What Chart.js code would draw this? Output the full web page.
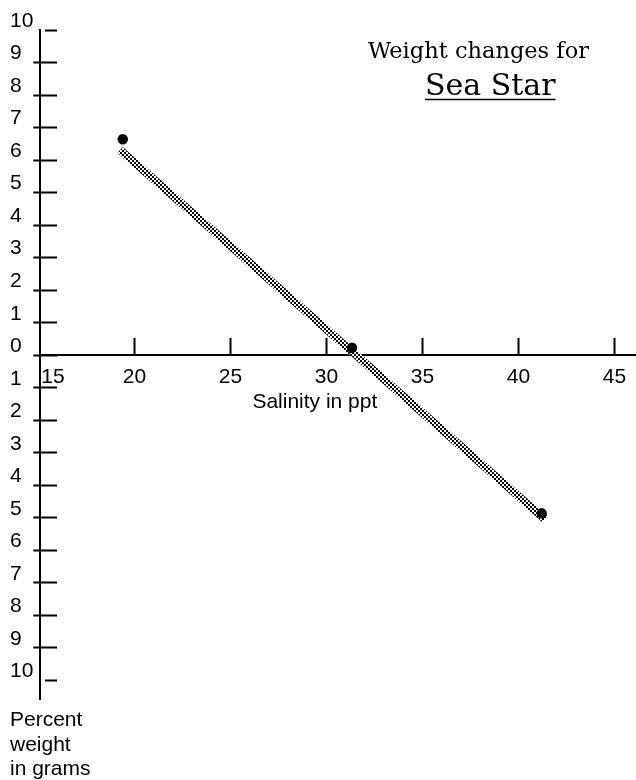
<!DOCTYPE html>
<html>
<head>
<meta charset="utf-8">
<script src="https://cdn.jsdelivr.net/npm/chart.js@4/dist/chart.umd.min.js"></script>
<style>
html,body{margin:0;padding:0;background:#fff}
#wrap{width:636px;height:780px;position:relative}
</style>
</head>
<body>
<div id="wrap"><canvas id="c"></canvas></div>
<script>
// ---- data ----
const salinity = [19.39, 31.33, 41.21];
const weightChange = [6.64, 0.23, -4.86];
const trendSalinity = [19.25, 41.38];
const trendWeight = [6.31, -5.04];
const xTickValues = [15, 20, 25, 30, 35, 40, 45];
const xTickLabels = ['15', '20', '25', '30', '35', '40', '45'];
const yTickValues = [-10, -9, -8, -7, -6, -5, -4, -3, -2, -1, 0, 1, 2, 3, 4, 5, 6, 7, 8, 9, 10];
const yTickLabels = ['10', '9', '8', '7', '6', '5', '4', '3', '2', '1', '0', '1', '2', '3', '4', '5', '6', '7', '8', '9', '10'];
const titleLine1 = 'Weight changes for';
const titleLine2 = 'Sea Star';
const xAxisTitle = 'Salinity in ppt';
const yAxisTitleLines = ['Percent', 'weight', 'in grams'];

// ---- view ----
const X_MIN = 15.1, X_MAX = 46.12, Y_MIN = -10.6, Y_MAX = 10;
const SANS = 'Liberation Sans, Arial, Helvetica, sans-serif';
const SERIF = 'DejaVu Serif, serif';
const clear = 'rgba(0,0,0,0)';

const pc = document.createElement('canvas');
pc.width = 4; pc.height = 4;
const pctx = pc.getContext('2d');
pctx.fillStyle = '#fff'; pctx.fillRect(0, 0, 4, 4);
pctx.fillStyle = '#000'; pctx.fillRect(0, 0, 2, 2); pctx.fillRect(2, 2, 2, 2);
const checker = pctx.createPattern(pc, 'repeat');

const setXTicks = s => { s.ticks = xTickValues.map(v => ({ value: v })); };
const setYTicks = s => { s.ticks = yTickValues.map(v => ({ value: v })); };

const headingPlugin = {
  id: 'heading',
  afterDraw(chart) {
    const ctx = chart.ctx;
    ctx.save();
    ctx.fillStyle = '#000';
    ctx.textBaseline = 'alphabetic';
    ctx.textAlign = 'left';
    ctx.font = '22.5px ' + SERIF;
    ctx.fillText(titleLine1, 368, 58);
    ctx.font = '30px ' + SERIF;
    const w = ctx.measureText(titleLine2).width;
    const x2 = 425;
    ctx.fillText(titleLine2, x2, 95);
    ctx.strokeStyle = '#000';
    ctx.lineWidth = 1.5;
    ctx.beginPath();
    ctx.moveTo(x2, 99.5);
    ctx.lineTo(x2 + w, 99.5);
    ctx.stroke();
    ctx.restore();
  }
};

new Chart(document.getElementById('c'), {
  type: 'scatter',
  data: {
    datasets: [
      {
        label: 'Weight change',
        data: salinity.map((s, i) => ({ x: s, y: weightChange[i] })),
        xAxisID: 'x', yAxisID: 'y',
        pointRadius: 5.2,
        pointStyle: 'circle',
        backgroundColor: '#000',
        borderColor: '#000',
        borderWidth: 0,
        showLine: false
      },
      {
        label: 'Trend',
        data: trendSalinity.map((s, i) => ({ x: s, y: trendWeight[i] })),
        xAxisID: 'x', yAxisID: 'y',
        showLine: true,
        borderColor: checker,
        borderWidth: 8,
        borderCapStyle: 'butt',
        pointRadius: 0,
        fill: false
      }
    ]
  },
  options: {
    responsive: true,
    maintainAspectRatio: false,
    animation: false,
    devicePixelRatio: 1,
    events: [],
    layout: { autoPadding: false, padding: { left: 10, top: 30, right: 0, bottom: 0 } },
    plugins: {
      legend: { display: false },
      tooltip: { enabled: false },
      title: {
        display: true,
        position: 'bottom',
        align: 'start',
        text: yAxisTitleLines,
        color: '#000',
        font: { family: SANS, size: 21, weight: 'normal', lineHeight: 1.1667 },
        padding: { top: 8, bottom: -1.5 }
      }
    },
    scales: {
      x: {
        type: 'linear', axis: 'x',
        position: { y: 0 },
        min: X_MIN, max: X_MAX,
        afterBuildTicks: setXTicks,
        border: { display: true, color: '#000', width: 2 },
        grid: { display: true, drawOnChartArea: false, drawTicks: false },
        ticks: {
          autoSkip: false, maxRotation: 0, minRotation: 0,
          padding: 9,
          color: '#000',
          font: { family: SANS, size: 21 },
          callback: (v, i) => (i === 0 ? '     ' : '') + xTickLabels[i]
        },
        title: {
          display: true,
          text: xAxisTitle + '        ',
          color: '#000',
          font: { family: SANS, size: 21 },
          padding: { top: -9, bottom: 0 }
        }
      },
      x2: {
        type: 'linear', axis: 'x',
        position: { y: 0 },
        min: X_MIN, max: X_MAX,
        afterBuildTicks: setXTicks,
        border: { display: false },
        grid: {
          display: true, drawOnChartArea: false, drawTicks: true,
          tickLength: -17, tickWidth: 2,
          tickColor: c => (c.index === 0 ? clear : '#000')
        },
        ticks: { display: false }
      },
      y: {
        type: 'linear', axis: 'y',
        position: 'left',
        min: Y_MIN, max: Y_MAX,
        afterBuildTicks: setYTicks,
        border: { display: true, color: '#000', width: 2 },
        grid: {
          display: true, drawOnChartArea: false, drawTicks: true,
          tickLength: 7, tickWidth: 2,
          tickColor: c => (c.tick && Math.abs(c.tick.value) === 10 ? clear : '#000')
        },
        ticks: {
          autoSkip: false,
          crossAlign: 'far',
          padding: 0,
          labelOffset: -9,
          color: '#000',
          font: { family: SANS, size: 21 },
          callback: (v, i) => yTickLabels[i]
        }
      },
      y2: {
        type: 'linear', axis: 'y',
        position: { x: X_MIN },
        min: Y_MIN, max: Y_MAX,
        afterBuildTicks: setYTicks,
        border: { display: false },
        grid: {
          display: true, drawOnChartArea: false, drawTicks: true,
          tickLength: -17, tickWidth: 2, tickColor: '#000',
          tickBorderDash: c => (c.tick && Math.abs(c.tick.value) === 10 ? [0, 5, 12, 0] : [])
        },
        ticks: { display: false }
      }
    }
  },
  plugins: [headingPlugin]
});
</script>
</body>
</html>
